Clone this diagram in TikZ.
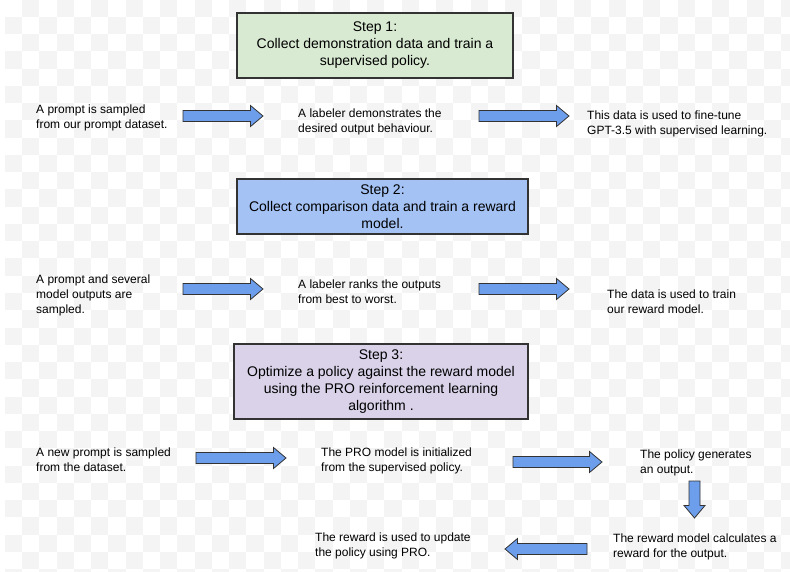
\documentclass[tikz,border=0pt]{standalone}
\usepackage{fontspec}
\setmainfont{Liberation Sans}
\usepackage{tikz}

\definecolor{chk}{RGB}{244,244,244}
\definecolor{stepgreen}{RGB}{217,234,211}
\definecolor{stepblue}{RGB}{164,194,244}
\definecolor{steppurple}{RGB}{217,210,233}
\definecolor{arrowblue}{RGB}{109,158,235}
\definecolor{edge}{RGB}{51,51,51}

\tikzset{
  stepbox/.style={draw=edge,line width=1.1pt,align=center,inner sep=0pt,
    font=\fontsize{14}{17}\selectfont},
  txt/.style={anchor=base west,align=left,inner sep=0pt,
    font=\fontsize{12}{15}\selectfont},
  pics/blockarrow/.style={code={
    \draw[fill=arrowblue,draw=edge,line width=0.8pt,line join=miter]
      (0,-5.5) -- (#1-12.5,-5.5) -- (#1-12.5,-10.5) -- (#1,0)
      -- (#1-12.5,10.5) -- (#1-12.5,5.5) -- (0,5.5) -- cycle;}}
}

\begin{document}
\begin{tikzpicture}[x=1pt,y=-1pt]
\useasboundingbox (0,0) rectangle (790,572);
\fill[white] (0,0) rectangle (790,572);
% checkered backdrop
\foreach \i in {0,...,45} {
  \foreach \j in {0,...,33} {
    \pgfmathtruncatemacro{\odd}{mod(\i+\j,2)}
    \ifnum\odd=1
      \fill[chk] (4.75+17.25*\i,-0.25+17.25*\j) rectangle ++(17.25,17.25);
    \fi
  }
}

% step 1 (text nodes sit on the baseline of their last line)
\node[stepbox,fill=stepgreen,minimum width=276pt,minimum height=65pt] (step1) at (375,45.5)
  {Step 1:\\Collect demonstration data and train a\\supervised policy.};
\node[txt] (sample1) at (36,129) {A prompt is sampled\\from our prompt dataset.};
\node[txt] (demo) at (298,133) {A labeler demonstrates the\\desired output behaviour.};
\node[txt] (tune) at (587,135) {This data is used to fine-tune\\GPT-3.5 with supervised learning.};
\pic at (183,116) {blockarrow=80};
\pic at (479,116) {blockarrow=90};

% step 2
\node[stepbox,fill=stepblue,minimum width=291pt,minimum height=55pt] (step2) at (382.5,206.5)
  {Step 2:\\Collect comparison data and train a reward\\model.};
\node[txt] (sample2) at (36,313) {A prompt and several\\model outputs are\\sampled.};
\node[txt] (rank) at (298,303) {A labeler ranks the outputs\\from best to worst.};
\node[txt] (train) at (607,313) {The data is used to train\\our reward model.};
\pic at (183,289) {blockarrow=80};
\pic at (479,289) {blockarrow=90};

% step 3
\node[stepbox,fill=steppurple,minimum width=294pt,minimum height=75pt] (step3) at (381,381.5)
  {Step 3:\\Optimize a policy against the reward model\\using the PRO reinforcement learning\\algorithm .};
\node[txt] (sample3) at (36,471) {A new prompt is sampled\\from the dataset.};
\node[txt] (init) at (321,471) {The PRO model is initialized\\from the supervised policy.};
\node[txt] (gen) at (640,473) {The policy generates\\an output.};
\node[txt] (calc) at (613,557) {The reward model calculates a\\reward for the output.};
\node[txt] (update) at (315,556) {The reward is used to update\\the policy using PRO.};
\pic at (196,458) {blockarrow=90};
\pic at (513,462) {blockarrow=89};
\pic[rotate=-90] at (694.5,481) {blockarrow=37};
\pic[rotate=180] at (587,549) {blockarrow=82};

\end{tikzpicture}
\end{document}
